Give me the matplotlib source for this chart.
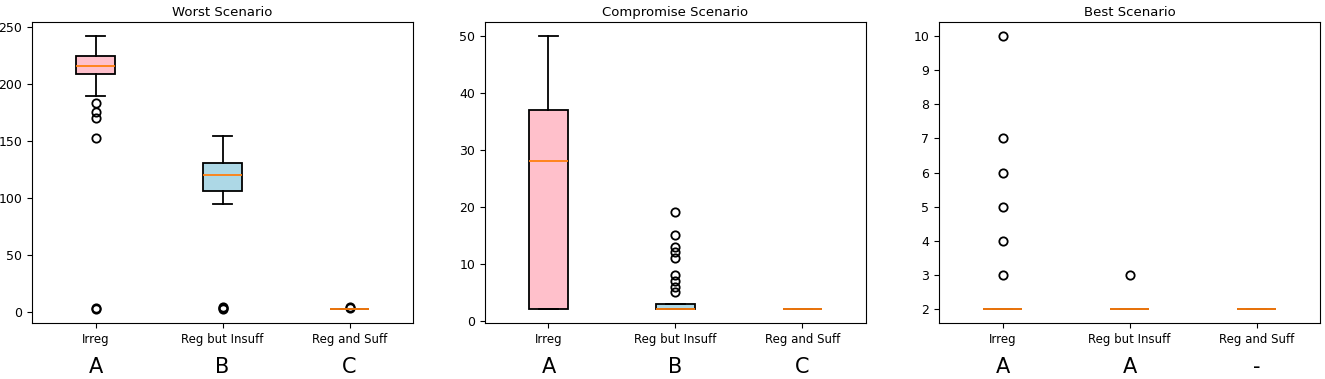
import matplotlib.pyplot as plt

categories = ["Irreg", "Reg but Insuff", "Reg and Suff"]
titles = ["Worst Scenario", "Compromise Scenario", "Best Scenario"]
letters = [["A", "B", "C"], ["A", "B", "C"], ["A", "A", "-"]]
box_colors = ["pink", "lightblue", "lightgreen"]

# box stats per scenario: (whislo, q1, med, q3, whishi, fliers)
worst = [
    (189, 208, 215, 224, 242, [183, 175, 170, 152, 3, 2]),
    (94, 106, 120, 130, 154, [4, 3, 2]),
    (2, 2, 2, 2, 2, [3, 4]),
]
compromise = [
    (2, 2, 28, 37, 50, []),
    (2, 2, 2, 3, 3, [19, 15, 13, 12, 11, 8, 7, 6, 5]),
    (2, 2, 2, 2, 2, []),
]
best = [
    (2, 2, 2, 2, 2, [3, 4, 5, 6, 7, 10]),
    (2, 2, 2, 2, 2, [3]),
    (2, 2, 2, 2, 2, []),
]
scenarios = [worst, compromise, best]

plt.rcParams['font.size'] = 9

fig = plt.figure(figsize=(13.25, 3.79), dpi=100)
lefts = [32, 485, 939]
width = 381

for k, (data, title) in enumerate(zip(scenarios, titles)):
    ax = fig.add_axes([lefts[k] / 1325, 56 / 379, width / 1325, 301 / 379])
    stats = []
    for name, (lo, q1, med, q3, hi, fl) in zip(categories, data):
        stats.append(dict(label=name, whislo=lo, q1=q1, med=med, q3=q3,
                          whishi=hi, fliers=fl))
    bp = ax.bxp(stats, widths=0.3, patch_artist=True,
                boxprops=dict(linewidth=1.3),
                whiskerprops=dict(linewidth=1.3),
                capprops=dict(linewidth=1.3),
                medianprops=dict(color="C1", linewidth=1.3),
                flierprops=dict(marker="o", markerfacecolor="none",
                                markeredgecolor="black", markersize=6,
                                markeredgewidth=1.3))
    for patch, c in zip(bp["boxes"], box_colors):
        patch.set_facecolor(c)
    ax.tick_params(axis="x", labelsize=8.5)
    ax.set_title(title, fontsize=9.5, pad=4)
    for i, let in enumerate(letters[k]):
        ax.text(i + 1, -0.145, let, transform=ax.get_xaxis_transform(),
                ha="center", va="center", fontsize=15)

fig.savefig("out.png", dpi=100)
